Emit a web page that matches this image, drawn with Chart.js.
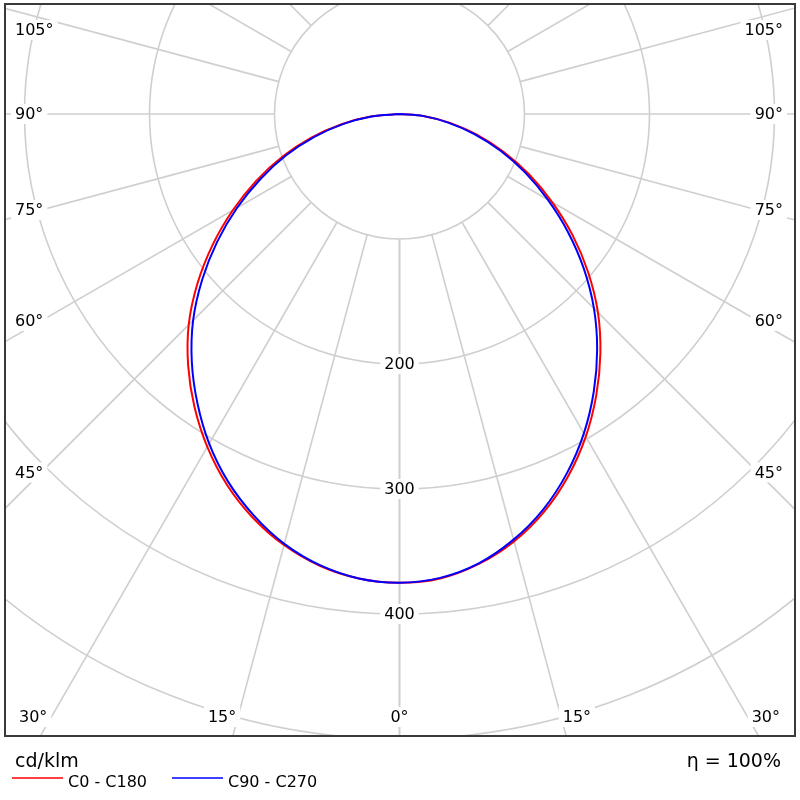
<!DOCTYPE html>
<html>
<head>
<meta charset="utf-8">
<title>LDC</title>
<script src="https://cdn.jsdelivr.net/npm/chart.js@4.4.1/dist/chart.umd.min.js"></script>
<style>
  html, body { margin: 0; padding: 0; background: #fff; }
  #wrap { width: 800px; height: 800px; }
</style>
</head>
<body>
<div id="wrap"><canvas id="ldc" width="800" height="800"></canvas></div>
<script>
(function () {
  "use strict";

  // gamma angles (deg from nadir) and intensities in cd/klm
  var ANGLES = [0, 5, 10, 15, 20, 25, 30, 35, 40, 45, 50, 55, 60, 65, 70, 75, 80, 85, 90];
  var C0 = [375, 373, 365.5, 354, 338.5, 319.5, 298, 274.5, 250, 224.5, 197, 169, 141, 114.5, 88.5, 64, 41, 20, 0];
  var C180 = [375, 373, 367, 357, 343.5, 327, 307.5, 286, 263, 238.5, 211, 182.5, 154, 126.5, 99.5, 73, 47, 23, 0];
  var C90 = [375, 372.5, 365, 352.5, 336.5, 317, 295, 271, 246, 220, 192.5, 164.5, 137, 111, 86, 62, 39.5, 19.5, 0];
  var C270 = [375, 373, 366.5, 356, 341.5, 324.5, 304.5, 282, 258.5, 233.5, 206, 178, 150, 122.5, 96.5, 70.5, 45.5, 22.5, 0];

  var RINGS = [100, 200, 300, 400, 500];
  var RING_LABELS = [200, 300, 400];
  var SPOKES = [0, 15, 30, 45, 60, 75, 90, 105, 120, 135, 150, 165, 180];
  var SIDE_LABELS = [45, 60, 75, 90, 105];
  var BOTTOM_LABELS = [-30, -15, 0, 15, 30];

  var UNIT = "cd/klm";
  var EFFICIENCY = "η = 100%";
  var SERIES_NAMES = ["C0 - C180", "C90 - C270"];

  var X_MIN = -314.8, X_MAX = 315.6, Y_MIN = -496.8, Y_MAX = 87.2;
  var FONT = "DejaVu Sans, Verdana, sans-serif";
  var GRID = "#cfcfcf";

  function rad(d) {
    return (d * Math.PI) / 180;
  }

  // left half goes 90 -> 0, right half 0 -> 90
  function curve(left, right) {
    var pts = [];
    var i;
    for (i = ANGLES.length - 1; i >= 0; i--) {
      pts.push({ x: -left[i] * Math.sin(rad(ANGLES[i])), y: -left[i] * Math.cos(rad(ANGLES[i])) });
    }
    for (i = 1; i < ANGLES.length; i++) {
      pts.push({ x: right[i] * Math.sin(rad(ANGLES[i])), y: -right[i] * Math.cos(rad(ANGLES[i])) });
    }
    return pts;
  }

  function geo(chart) {
    var xs = chart.scales.x, ys = chart.scales.y;
    var cx = xs.getPixelForValue(0), cy = ys.getPixelForValue(0);
    return {
      cx: cx,
      cy: cy,
      r: function (v) { return xs.getPixelForValue(v) - cx; },
      at: function (v, deg, side) {
        return { x: xs.getPixelForValue(side * v * Math.sin(rad(deg))), y: ys.getPixelForValue(-v * Math.cos(rad(deg))) };
      },
    };
  }

  function boxedText(ctx, txt, x, y, align) {
    ctx.font = "16px " + FONT;
    var w = ctx.measureText(txt).width;
    var left = align === "left" ? x : align === "right" ? x - w : x - w / 2;
    ctx.fillStyle = "#fff";
    ctx.fillRect(left - 4, y - 10, w + 8, 20);
    ctx.fillStyle = "#000";
    ctx.textAlign = "left";
    ctx.textBaseline = "middle";
    ctx.fillText(txt, left, y + 1);
  }

  var polarGrid = {
    id: "polarGrid",
    beforeDatasetsDraw: function (chart) {
      var ctx = chart.ctx, a = chart.chartArea, g = geo(chart);
      ctx.save();
      ctx.beginPath();
      ctx.rect(a.left, a.top, a.right - a.left, a.bottom - a.top);
      ctx.clip();
      ctx.strokeStyle = GRID;
      ctx.lineWidth = 1.6;
      RINGS.forEach(function (v) {
        ctx.beginPath();
        ctx.arc(g.cx, g.cy, g.r(v), 0, Math.PI * 2);
        ctx.stroke();
      });
      SPOKES.forEach(function (d) {
        [-1, 1].forEach(function (s) {
          var p0 = g.at(RINGS[0], d, s), p1 = g.at(900, d, s);
          ctx.beginPath();
          ctx.moveTo(p0.x, p0.y);
          ctx.lineTo(p1.x, p1.y);
          ctx.stroke();
        });
      });

      RING_LABELS.forEach(function (v) {
        boxedText(ctx, String(v), g.cx, g.cy + g.r(v), "center");
      });

      // side labels sit where the spoke crosses a line near the frame
      var d = g.cx - (a.left + 35);
      SIDE_LABELS.forEach(function (deg) {
        var y = Math.max(a.top + 25, g.cy + d / Math.tan(rad(deg)));
        boxedText(ctx, deg + "°", a.left + 9, y, "left");
        boxedText(ctx, deg + "°", a.right - 11, y, "right");
      });

      ctx.font = "16px " + FONT;
      var yb = a.bottom - 18;
      var dy = a.bottom + 41 - g.cy;
      BOTTOM_LABELS.forEach(function (deg) {
        var txt = Math.abs(deg) + "°";
        var hw = ctx.measureText(txt).width / 2;
        var x = g.cx + dy * Math.tan(rad(deg));
        x = Math.min(a.right - 14 - hw, Math.max(a.left + 13 + hw, x));
        boxedText(ctx, txt, x, yb, "center");
      });
      ctx.restore();
    },
    afterDraw: function (chart) {
      var ctx = chart.ctx, a = chart.chartArea;
      ctx.save();
      ctx.strokeStyle = "#3a3a3a";
      ctx.lineWidth = 2;
      ctx.strokeRect(a.left - 1, a.top - 1, a.right - a.left + 2, a.bottom - a.top + 2);

      ctx.fillStyle = "#000";
      ctx.textBaseline = "alphabetic";
      ctx.font = "19px " + FONT;
      ctx.textAlign = "left";
      ctx.fillText(UNIT, a.left + 9, a.bottom + 32);
      ctx.textAlign = "right";
      ctx.fillText(EFFICIENCY, a.right - 13, a.bottom + 32);

      ctx.font = "16px " + FONT;
      ctx.textAlign = "left";
      var items = [
        { x: a.left + 6, color: "#ff0000", name: SERIES_NAMES[0] },
        { x: a.left + 166, color: "#0000ff", name: SERIES_NAMES[1] },
      ];
      items.forEach(function (it) {
        ctx.strokeStyle = it.color;
        ctx.lineWidth = 1.5;
        ctx.beginPath();
        ctx.moveTo(it.x, a.bottom + 43);
        ctx.lineTo(it.x + 51, a.bottom + 43);
        ctx.stroke();
        ctx.fillStyle = "#000";
        ctx.fillText(it.name, it.x + 56, a.bottom + 52);
      });
      ctx.restore();
    },
  };

  function init() {
    var el = document.getElementById("ldc");
    new Chart(el.getContext("2d"), {
      type: "scatter",
      data: {
        datasets: [
          {
            label: SERIES_NAMES[1],
            data: curve(C270, C90),
            showLine: true,
            borderColor: "#0000ff",
            borderWidth: 2,
            pointRadius: 0,
            tension: 0.35,
          },
          {
            label: SERIES_NAMES[0],
            data: curve(C180, C0),
            showLine: true,
            borderColor: "#ff0000",
            borderWidth: 2,
            pointRadius: 0,
            tension: 0.35,
          },
        ],
      },
      options: {
        responsive: false,
        animation: false,
        layout: { padding: { left: 6, right: 6, top: 5, bottom: 65 } },
        scales: {
          x: { type: "linear", min: X_MIN, max: X_MAX, display: false },
          y: { type: "linear", min: Y_MIN, max: Y_MAX, display: false },
        },
        plugins: { legend: { display: false }, tooltip: { enabled: false } },
      },
      plugins: [polarGrid],
    });
  }

  document.addEventListener("DOMContentLoaded", init);
})();
</script>
</body>
</html>
